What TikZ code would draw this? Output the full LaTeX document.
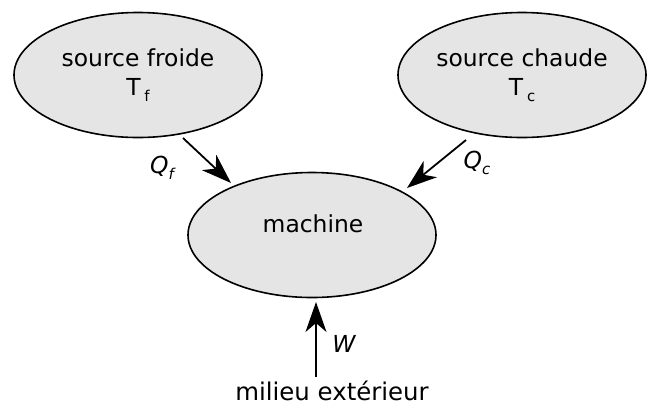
\documentclass[tikz,border=0pt]{standalone}
\usepackage{fontspec}
\setmainfont{DejaVu Sans}
\usetikzlibrary{shapes.geometric,arrows.meta}
\definecolor{ellfill}{HTML}{E5E5E5}
\tikzset{
  ell/.style={ellipse, draw=black, fill=ellfill, line width=1.6bp, minimum width=248bp, minimum height=125bp, inner sep=0pt, font=\fontsize{23.5}{28}\selectfont, align=center},
  flow/.style={line width=1.8bp, -{Stealth[length=30bp,width=21bp,inset=9bp]}},
  lbl/.style={font=\fontsize{23.5}{28}\selectfont, inner sep=0pt}
}
\newcommand{\subtxt}[1]{\raisebox{-0.45ex}{\fontsize{15}{16}\selectfont #1}}
\begin{document}
\begin{tikzpicture}[x=1bp,y=-1bp]
\useasboundingbox (0,0) rectangle (654,407);
\node[ell] (froide) at (138,75) {source froide\\[1bp]T\,\subtxt{f}};
\node[ell] (chaude) at (522,75) {source chaude\\[1bp]T\,\subtxt{c}};
\node[ell] (machine) at (312,235) {};
\node[lbl] (machinetxt) at (313,224) {machine};
\node[lbl,font=\fontsize{24.5}{28}\selectfont, anchor=base] (milieu) at (332,400) {milieu extérieur};
\coordinate (qfs) at (183,138);
\coordinate (qfe) at (231,183);
\coordinate (qcs) at (466,140);
\coordinate (qce) at (407,188);
\coordinate (ws) at (316,377);
\coordinate (we) at (316,302);
\draw[flow] (qfs) -- (qfe);
\draw[flow] (qcs) -- (qce);
\draw[flow] (ws) -- (we);
\node[lbl] (qf) at (162,168) {\itshape Q\subtxt{f}};
\node[lbl] (qc) at (477,163) {\itshape Q\subtxt{c}};
\node[lbl] (w) at (344,344) {\itshape W};
\end{tikzpicture}
\end{document}
